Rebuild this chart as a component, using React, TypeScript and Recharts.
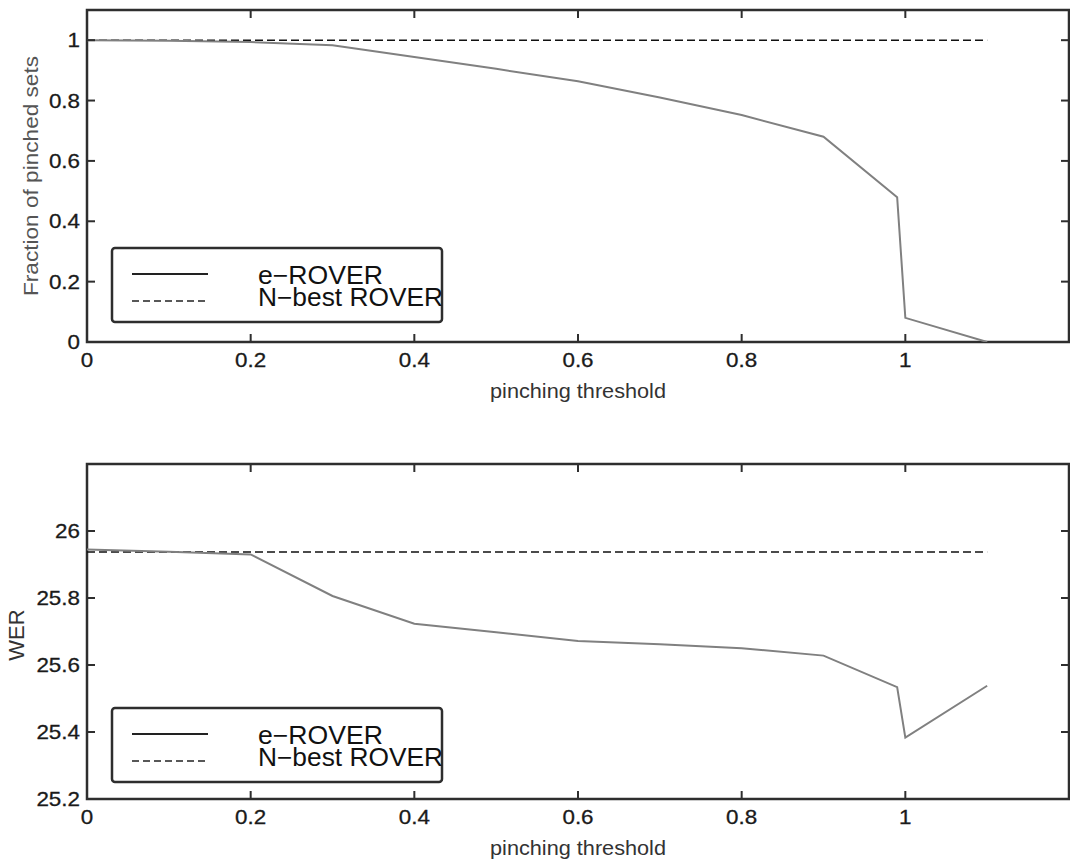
import React from 'react';
import { LineChart, Line, XAxis, YAxis, ReferenceArea, Legend } from 'recharts';

// ---- data ----
const thresholds = [0, 0.1, 0.2, 0.3, 0.4, 0.5, 0.6, 0.7, 0.8, 0.9, 0.99, 1.0, 1.1];
const fractionERover = [1.0, 0.998, 0.994, 0.983, 0.944, 0.905, 0.864, 0.81, 0.752, 0.68, 0.48, 0.08, 0.0];
const fractionNBest = [1, 1, 1, 1, 1, 1, 1, 1, 1, 1, 1, 1, 1];
const werERover = [25.945, 25.938, 25.93, 25.806, 25.723, 25.698, 25.672, 25.662, 25.65, 25.628, 25.534, 25.383, 25.538];
const werNBest = [25.937, 25.937, 25.937, 25.937, 25.937, 25.937, 25.937, 25.937, 25.937, 25.937, 25.937, 25.937, 25.937];

const xTicks = [0, 0.2, 0.4, 0.6, 0.8, 1];
const fracTicks = [0, 0.2, 0.4, 0.6, 0.8, 1];
const werTicks = [25.2, 25.4, 25.6, 25.8, 26];
const xTickLabels = ['0', '0.2', '0.4', '0.6', '0.8', '1'];
const fracTickLabels = ['0', '0.2', '0.4', '0.6', '0.8', '1'];
const werTickLabels = ['25.2', '25.4', '25.6', '25.8', '26'];

const seriesNames = ['e\u2212ROVER', 'N\u2212best ROVER'];
const xLabel = 'pinching threshold';
const fracLabel = 'Fraction of pinched sets';
const werLabel = 'WER';

const fracData = thresholds.map((x, i) => ({ x, erover: fractionERover[i], nbest: fractionNBest[i] }));
const werData = thresholds.map((x, i) => ({ x, erover: werERover[i], nbest: werNBest[i] }));

const FONT = '"Liberation Sans", Arial, Helvetica, sans-serif';
const FRAME = '#2e2e2e';
const W = 1070;
const PLOT_LEFT = 87;
const PLOT_RIGHT = 1069;

const labelFor = (labels: string[], ticks: number[], v: number) => {
  const i = ticks.findIndex((t) => Math.abs(t - v) < 1e-9);
  return i >= 0 ? labels[i] : String(v);
};

const makeXTick = (top: number, bottom: number) => (p: any) => {
  const { x, payload } = p;
  return (
    <g>
      <line x1={x} x2={x} y1={bottom} y2={bottom - 8} stroke={FRAME} strokeWidth={2} />
      <line x1={x} x2={x} y1={top} y2={top + 8} stroke={FRAME} strokeWidth={2} />
      <text
        transform={`translate(${x},${bottom + 18}) scale(1.12,1)`}
        textAnchor="middle"
        dy="0.36em"
        fontSize={20}
        fontFamily={FONT}
        fill="#1a1a1a"
        stroke="#1a1a1a"
        strokeWidth={0.3}
      >
        {labelFor(xTickLabels, xTicks, payload.value)}
      </text>
    </g>
  );
};

const makeYTick = (labels: string[], ticks: number[]) => (p: any) => {
  const { y, payload } = p;
  return (
    <g>
      <line x1={PLOT_LEFT} x2={PLOT_LEFT + 8} y1={y} y2={y} stroke={FRAME} strokeWidth={2} />
      <line x1={PLOT_RIGHT - 8} x2={PLOT_RIGHT} y1={y} y2={y} stroke={FRAME} strokeWidth={2} />
      <text
        transform={`translate(${PLOT_LEFT - 7},${y}) scale(1.12,1)`}
        textAnchor="end"
        dy="0.36em"
        fontSize={20}
        fontFamily={FONT}
        fill="#1a1a1a"
        stroke="#1a1a1a"
        strokeWidth={0.3}
      >
        {labelFor(labels, ticks, payload.value)}
      </text>
    </g>
  );
};

const LegendBox = () => (
  <svg width={335} height={78} style={{ overflow: 'visible', display: 'block' }}>
    <rect x={1} y={1} width={330} height={74} rx={3} fill="#fff" stroke={FRAME} strokeWidth={2.5} />
    <line x1={21} x2={97} y1={27} y2={27} stroke="#222" strokeWidth={2} />
    <text x={147} y={37} fontSize={25} fontFamily={FONT} fill="#111" textLength={125} lengthAdjust="spacingAndGlyphs">{seriesNames[0]}</text>
    <line x1={21} x2={97} y1={54} y2={54} stroke="#222" strokeWidth={1.5} strokeDasharray="7 4" />
    <text x={147} y={59} fontSize={25} fontFamily={FONT} fill="#111" textLength={185} lengthAdjust="spacingAndGlyphs">{seriesNames[1]}</text>
  </svg>
);

const xLabelContent = (bottom: number) => () => (
  <text x={(PLOT_LEFT + PLOT_RIGHT) / 2} y={bottom + 56} textAnchor="middle" fontSize={20} fontFamily={FONT} fill="#333" textLength={176} lengthAdjust="spacingAndGlyphs">
    {xLabel}
  </text>
);

export default function App() {
  const topPlotTop = 10;
  const topPlotBottom = 342;
  const botPlotTop = 34;
  const botPlotBottom = 369;
  return (
    <div style={{ position: 'absolute', left: 0, top: 0, width: W, height: 861, background: '#fff' }}>
      <LineChart width={W} height={430} data={fracData} margin={{ top: topPlotTop, right: W - PLOT_RIGHT, bottom: 0, left: 0 }}>
        <XAxis
          dataKey="x"
          type="number"
          domain={[0, 1.2]}
          ticks={xTicks}
          allowDataOverflow
          height={430 - topPlotBottom}
          axisLine={false}
          tickLine={false}
          tickSize={0}
          tick={makeXTick(topPlotTop, topPlotBottom)}
          interval={0}
          label={{ content: xLabelContent(topPlotBottom) }}
        />
        <YAxis
          type="number"
          domain={[0, 1.1]}
          ticks={fracTicks}
          allowDataOverflow
          width={PLOT_LEFT}
          axisLine={false}
          tickLine={false}
          tickSize={0}
          tick={makeYTick(fracTickLabels, fracTicks)}
          interval={0}
          label={{
            content: () => (
              <text transform={`translate(38,${(topPlotTop + topPlotBottom) / 2}) rotate(-90)`} textAnchor="middle" fontSize={21} fontFamily={FONT} fill="#555" textLength={240} lengthAdjust="spacingAndGlyphs">
                {fracLabel}
              </text>
            ),
          }}
        />
        <ReferenceArea x1={0} x2={1.2} y1={0} y2={1.1} fill="none" stroke={FRAME} strokeWidth={2.5} ifOverflow="visible" />
        <Line dataKey="nbest" name={seriesNames[1]} stroke="#111" strokeWidth={1.5} strokeDasharray="8 4" dot={false} isAnimationActive={false} />
        <Line dataKey="erover" name={seriesNames[0]} stroke="#808080" strokeWidth={2} dot={false} isAnimationActive={false} />
        <Legend
          layout="horizontal"
          verticalAlign="middle"
          align="center"
          content={LegendBox}
          wrapperStyle={{ left: 111, top: 247, width: 335, height: 78 }}
        />
      </LineChart>
      <LineChart width={W} height={431} data={werData} margin={{ top: botPlotTop, right: W - PLOT_RIGHT, bottom: 0, left: 0 }}>
        <XAxis
          dataKey="x"
          type="number"
          domain={[0, 1.2]}
          ticks={xTicks}
          allowDataOverflow
          height={431 - botPlotBottom}
          axisLine={false}
          tickLine={false}
          tickSize={0}
          tick={makeXTick(botPlotTop, botPlotBottom)}
          interval={0}
          label={{ content: xLabelContent(botPlotBottom) }}
        />
        <YAxis
          type="number"
          domain={[25.2, 26.2]}
          ticks={werTicks}
          allowDataOverflow
          width={PLOT_LEFT}
          axisLine={false}
          tickLine={false}
          tickSize={0}
          tick={makeYTick(werTickLabels, werTicks)}
          interval={0}
          label={{
            content: () => (
              <text transform={`translate(24,205) rotate(-90)`} textAnchor="middle" fontSize={22} fontFamily={FONT} fill="#333">
                {werLabel}
              </text>
            ),
          }}
        />
        <ReferenceArea x1={0} x2={1.2} y1={25.2} y2={26.2} fill="none" stroke={FRAME} strokeWidth={2.5} ifOverflow="visible" />
        <Line dataKey="nbest" name={seriesNames[1]} stroke="#111" strokeWidth={1.5} strokeDasharray="8 4" dot={false} isAnimationActive={false} />
        <Line dataKey="erover" name={seriesNames[0]} stroke="#808080" strokeWidth={2} dot={false} isAnimationActive={false} />
        <Legend
          layout="horizontal"
          verticalAlign="middle"
          align="center"
          content={LegendBox}
          wrapperStyle={{ left: 111, top: 277, width: 335, height: 78 }}
        />
      </LineChart>
    </div>
  );
}
